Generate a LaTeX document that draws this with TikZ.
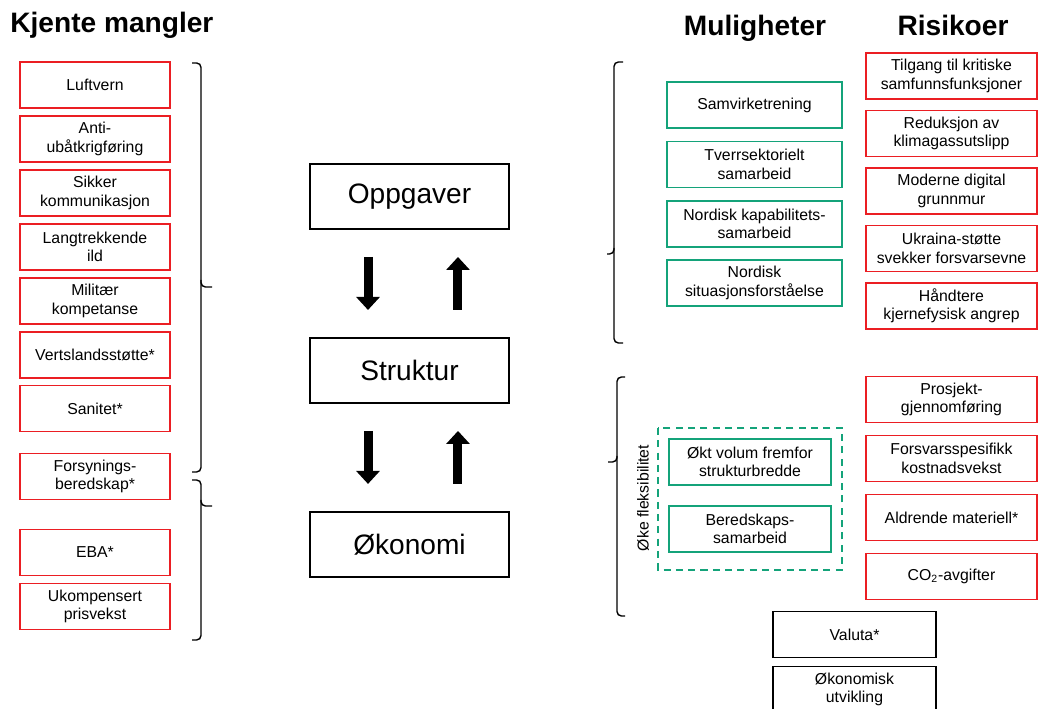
\documentclass[tikz,border=0pt]{standalone}
\usepackage{fontspec}
\setmainfont{Liberation Sans}
\usetikzlibrary{arrows.meta,positioning}
\definecolor{mangelrod}{RGB}{235,30,35}
\definecolor{mulgronn}{RGB}{20,163,122}
\tikzset{
    %Define style for boxes
    box/.style={
           rectangle,
           draw=black, line width=0.7pt,
           inner sep=0pt, outer sep=0pt,
           minimum height=9.2mm,
           align=center,
           font=\fontsize{9}{10.5}\selectfont},
    mangel/.style={box, draw=mangelrod, minimum width=3cm},
    mulighet/.style={box, draw=mulgronn, minimum width=3.5cm},
    risiko/.style={box, draw=mangelrod, minimum width=3.42cm},
    okobox/.style={box, minimum width=3.26cm},
    hoved/.style={
           box,
           minimum width=3.98cm,
           minimum height=1.3cm,
           font=\fontsize{16}{19}\selectfont},
    tittel/.style={
           inner sep=0pt,
           font=\bfseries\fontsize{16}{19}\selectfont},
    % Define arrow style
    blokkpil/.style={
           -{Triangle[width=4.6mm,length=2.6mm]},
           line width=1.8mm,
           shorten <=5.6mm,
           shorten >=5.6mm},
    % Define brace style
    klamme/.style={
           draw=black,
           line width=0.8pt,
           rounded corners=2.5pt},
    fleksramme/.style={
           draw=mulgronn,
           line width=0.9pt,
           dash pattern=on 4pt off 3pt}
}

\begin{document}
\begin{tikzpicture}[x=0.02cm, y=-0.02cm]
  \useasboundingbox (0,0) rectangle (1039,709);

  % titles
  \node[tittel, anchor=west] (t-mangler) at (10,25) {Kjente mangler};
  \node[tittel] (t-muligheter) at (755,28) {Muligheter};
  \node[tittel] (t-risikoer) at (953,25) {Risikoer};

  % known shortcomings
  \node[mangel] (luftvern) at (95,85) {Luftvern};
  \node[mangel, below=1.6mm of luftvern] (antiub) {Anti-\\ubåtkrigføring};
  \node[mangel, below=1.6mm of antiub] (sikker) {Sikker\\kommunikasjon};
  \node[mangel, below=1.6mm of sikker] (ild) {Langtrekkende\\ild};
  \node[mangel, below=1.6mm of ild] (kompetanse) {Militær\\kompetanse};
  \node[mangel, below=1.6mm of kompetanse] (vertsland) {Vertslandsstøtte*};
  \node[mangel, below=1.5mm of vertsland] (sanitet) {Sanitet*};
  \node[mangel, below=4.4mm of sanitet] (forsyning) {Forsynings-\\beredskap*};
  \node[mangel, below=6mm of forsyning] (eba) {EBA*};
  \node[mangel, below=1.6mm of eba] (prisvekst) {Ukompensert\\prisvekst};

  \draw[klamme] (192,63) -| (201,287) -- (212,287);
  \draw[klamme] (201,280) |- (192,472);
  \draw[klamme] (192,480) -| (201,506) -- (212,506);
  \draw[klamme] (201,500) |- (192,640);

  % main chain
  \node[hoved] (opp) at (409.5,196.5) {Oppgaver};
  \node[hoved, below=2.18cm of opp] (str) {Struktur};
  \node[hoved, below=2.18cm of str] (eko) {Økonomi};
  \draw[blokkpil] ([xshift=-8.3mm]opp.south) -- ([xshift=-8.3mm]str.north);
  \draw[blokkpil] ([xshift=9.7mm]str.north) -- ([xshift=9.7mm]opp.south);
  \draw[blokkpil] ([xshift=-8.3mm]str.south) -- ([xshift=-8.3mm]eko.north);
  \draw[blokkpil] ([xshift=9.7mm]eko.north) -- ([xshift=9.7mm]str.south);

  % opportunities
  \node[mulighet] (samvirke) at (754.5,105) {Samvirketrening};
  \node[mulighet, below=2.7mm of samvirke] (tverr) {Tverrsektorielt\\samarbeid};
  \node[mulighet, below=2.7mm of tverr] (kapab) {Nordisk kapabilitets-\\samarbeid};
  \node[mulighet, below=2.6mm of kapab] (situasjon) {Nordisk\\situasjonsforståelse};

  \node[mulighet, minimum width=3.24cm] (oktvol) at (750,462) {Økt volum fremfor\\strukturbredde};
  \node[mulighet, minimum width=3.24cm, below=4.2mm of oktvol] (bered) {Beredskaps-\\samarbeid};
  \draw[fleksramme] (658,428) rectangle (842,570);
  \node[rotate=90, font=\fontsize{9}{10.5}\selectfont] (fleks) at (643,498) {Øke fleksibilitet};

  \draw[klamme] (623,62) -| (614,254) -- (607,254);
  \draw[klamme] (614,248) |- (623,343);
  \draw[klamme] (625,377) -| (617,462) -- (608,462);
  \draw[klamme] (617,456) |- (625,616);

  % risks
  \node[risiko] (tilgang) at (951.5,76) {Tilgang til kritiske\\samfunnsfunksjoner};
  \node[risiko, below=2.3mm of tilgang] (klima) {Reduksjon av\\klimagassutslipp};
  \node[risiko, below=2.3mm of klima] (digital) {Moderne digital\\grunnmur};
  \node[risiko, below=2.3mm of digital] (ukraina) {Ukraina-støtte\\svekker forsvarsevne};
  \node[risiko, below=2.3mm of ukraina] (kjerne) {Håndtere\\kjernefysisk angrep};

  \node[risiko] (prosjekt) at (951.5,399.5) {Prosjekt-\\gjennomføring};
  \node[risiko, below=2.6mm of prosjekt] (kostnad) {Forsvarsspesifikk\\kostnadsvekst};
  \node[risiko, below=2.6mm of kostnad] (aldrende) {Aldrende materiell*};
  \node[risiko, below=2.6mm of aldrende] (co2) {CO\textsubscript{2}-avgifter};

  \node[okobox] (valuta) at (854.5,634.5) {Valuta*};
  \node[okobox, below=1.8mm of valuta] (utvikling) {Økonomisk\\utvikling};
\end{tikzpicture}
\end{document}
